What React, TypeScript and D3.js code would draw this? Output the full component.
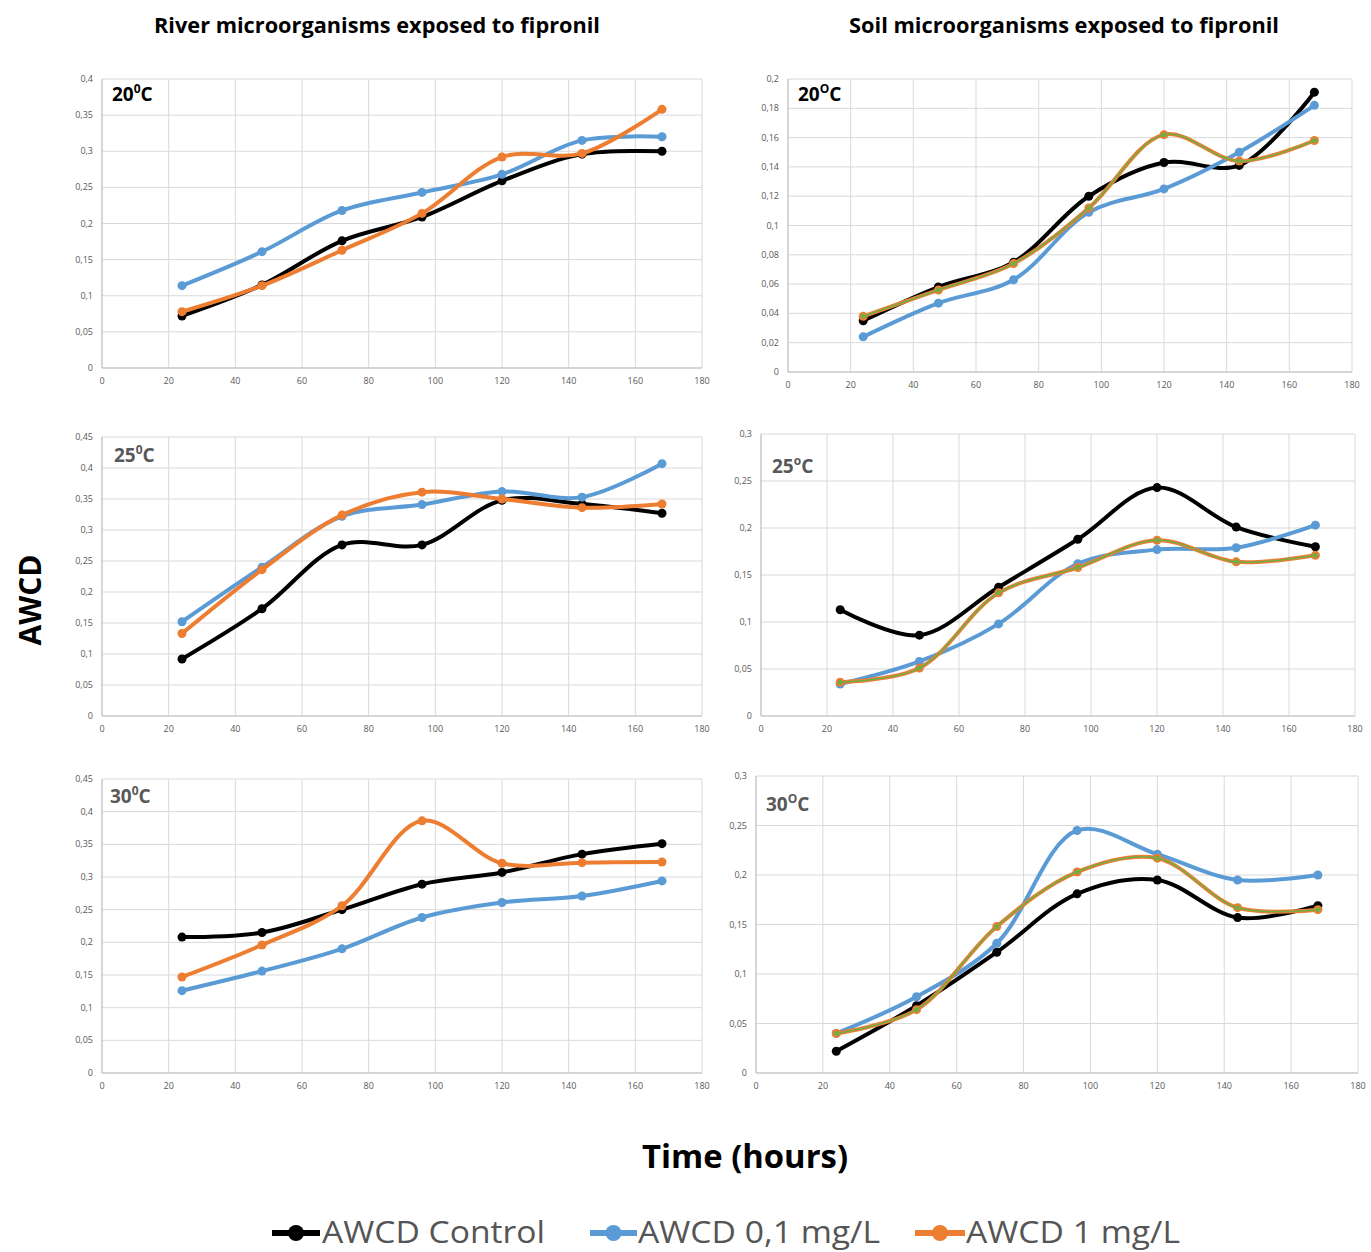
import React, { useEffect, useRef } from "react";
import * as d3 from "d3";

const hours = [24, 48, 72, 96, 120, 144, 168];
const xTicks = [0, 20, 40, 60, 80, 100, 120, 140, 160, 180];

// river
const river20Control = [0.072, 0.115, 0.176, 0.209, 0.259, 0.296, 0.3];
const river20Low = [0.114, 0.161, 0.218, 0.243, 0.268, 0.315, 0.32];
const river20High = [0.078, 0.114, 0.163, 0.214, 0.292, 0.297, 0.358];
const river25Control = [0.092, 0.173, 0.276, 0.276, 0.348, 0.342, 0.327];
const river25Low = [0.152, 0.24, 0.322, 0.341, 0.362, 0.353, 0.407];
const river25High = [0.133, 0.236, 0.324, 0.361, 0.35, 0.336, 0.342];
const river30Control = [0.208, 0.215, 0.25, 0.289, 0.307, 0.335, 0.351];
const river30Low = [0.126, 0.156, 0.19, 0.238, 0.261, 0.271, 0.294];
const river30High = [0.147, 0.196, 0.256, 0.386, 0.321, 0.322, 0.323];

// soil
const soil20Control = [0.035, 0.058, 0.075, 0.12, 0.143, 0.141, 0.191];
const soil20Low = [0.024, 0.047, 0.063, 0.109, 0.125, 0.15, 0.182];
const soil20High = [0.038, 0.056, 0.074, 0.112, 0.162, 0.144, 0.158];
const soil25Control = [0.113, 0.086, 0.137, 0.188, 0.243, 0.201, 0.18];
const soil25Low = [0.034, 0.058, 0.098, 0.162, 0.177, 0.179, 0.203];
const soil25High = [0.036, 0.051, 0.131, 0.158, 0.187, 0.164, 0.171];
const soil30Control = [0.022, 0.068, 0.122, 0.181, 0.195, 0.157, 0.169];
const soil30Low = [0.04, 0.077, 0.131, 0.245, 0.221, 0.195, 0.2];
const soil30High = [0.04, 0.064, 0.148, 0.203, 0.217, 0.167, 0.165];

const yTicks40 = [0, 0.05, 0.1, 0.15, 0.2, 0.25, 0.3, 0.35, 0.4];
const yTicks45 = [0, 0.05, 0.1, 0.15, 0.2, 0.25, 0.3, 0.35, 0.4, 0.45];
const yTicks20 = [0, 0.02, 0.04, 0.06, 0.08, 0.1, 0.12, 0.14, 0.16, 0.18, 0.2];
const yTicks30 = [0, 0.05, 0.1, 0.15, 0.2, 0.25, 0.3];

const legendLabels = ["AWCD Control", "AWCD 0,1 mg/L", "AWCD 1 mg/L"];
const colors = ["#000000", "#5b9bd5", "#ed7d31"];

const panels = [
  { box: [102, 702, 79, 368], ticks: yTicks40, label: ["20", "0"], lc: "#000", lpos: [112, 101], soil: false, s: [river20Control, river20Low, river20High] },
  { box: [788, 1352, 79, 372], ticks: yTicks20, label: ["20", "O"], lc: "#000", lpos: [798, 101], soil: true, s: [soil20Control, soil20Low, soil20High] },
  { box: [102, 702, 437, 716], ticks: yTicks45, label: ["25", "0"], lc: "#595959", lpos: [114, 462], soil: false, s: [river25Control, river25Low, river25High] },
  { box: [761, 1355, 434, 716], ticks: yTicks30, label: ["25", "o"], lc: "#595959", lpos: [772, 473], soil: true, s: [soil25Control, soil25Low, soil25High] },
  { box: [102, 702, 779, 1073], ticks: yTicks45, label: ["30", "0"], lc: "#595959", lpos: [110, 803], soil: false, s: [river30Control, river30Low, river30High] },
  { box: [756, 1358, 776, 1073], ticks: yTicks30, label: ["30", "O"], lc: "#595959", lpos: [766, 811], soil: true, s: [soil30Control, soil30Low, soil30High] },
];

const fmt = (v: number) => String(+v.toFixed(2)).replace(".", ",");

export default function App() {
  const ref = useRef<SVGSVGElement>(null);

  useEffect(() => {
    const svg = d3.select(ref.current);
    svg.selectAll("*").remove();
    const font = "'Open Sans', 'Liberation Sans', sans-serif";

    panels.forEach((p) => {
      const [x0, x1, y0, y1] = p.box;
      const x = d3.scaleLinear().domain([0, 180]).range([x0, x1]);
      const y = d3.scaleLinear().domain([0, p.ticks[p.ticks.length - 1]]).range([y1, y0]);
      const g = svg.append("g");

      // grid
      g.selectAll(".vg").data(xTicks).enter().append("line")
        .attr("x1", (d) => x(d)).attr("x2", (d) => x(d))
        .attr("y1", y0).attr("y2", y1)
        .attr("stroke", "#d9d9d9").attr("stroke-width", 1);
      g.selectAll(".hg").data(p.ticks).enter().append("line")
        .attr("x1", x0).attr("x2", x1)
        .attr("y1", (d) => y(d)).attr("y2", (d) => y(d))
        .attr("stroke", "#d9d9d9").attr("stroke-width", 1);
      g.append("line").attr("x1", x0).attr("x2", x1).attr("y1", y1).attr("y2", y1).attr("stroke", "#bfbfbf");
      g.append("line").attr("x1", x0).attr("x2", x0).attr("y1", y0).attr("y2", y1).attr("stroke", "#bfbfbf");

      // tick labels
      g.selectAll(".xt").data(xTicks).enter().append("text")
        .attr("x", (d) => x(d)).attr("y", y1 + 16)
        .attr("text-anchor", "middle").attr("font-size", 9).attr("font-family", font)
        .attr("fill", "#595959").text((d) => d);
      g.selectAll(".yt").data(p.ticks).enter().append("text")
        .attr("x", x0 - 9).attr("y", (d) => y(d) + 3)
        .attr("text-anchor", "end").attr("font-size", 9).attr("font-family", font)
        .attr("fill", "#595959").text((d) => fmt(d));

      // panel label
      const lt = g.append("text").attr("x", p.lpos[0]).attr("y", p.lpos[1])
        .attr("font-size", 19).attr("font-weight", "bold").attr("font-family", font)
        .attr("fill", p.lc);
      lt.append("tspan").text(p.label[0]);
      lt.append("tspan").attr("font-size", 12).attr("dy", -8).text(p.label[1]);
      lt.append("tspan").attr("dy", 8).text("C");

      const line = d3.line<number>()
        .x((d, i) => x(hours[i]))
        .y((d) => y(d))
        .curve(d3.curveCatmullRom.alpha(0.5));

      p.s.forEach((vals, si) => {
        g.append("path").datum(vals).attr("d", line)
          .attr("fill", "none").attr("stroke", colors[si]).attr("stroke-width", 4)
          .attr("stroke-linejoin", "round");
        g.selectAll(".m" + si).data(vals).enter().append("circle")
          .attr("cx", (d, i) => x(hours[i])).attr("cy", (d) => y(d))
          .attr("r", 4.5).attr("fill", colors[si]);
        if (p.soil && si === 2) {
          g.append("path").datum(vals).attr("d", line)
            .attr("fill", "none").attr("stroke", "#70ad47").attr("stroke-width", 1.5);
          g.selectAll(".mg").data(vals).enter().append("circle")
            .attr("cx", (d, i) => x(hours[i])).attr("cy", (d) => y(d))
            .attr("r", 2.5).attr("fill", "#70ad47");
        }
      });
    });

    // titles
    svg.append("text").attr("x", 377).attr("y", 33).attr("text-anchor", "middle")
      .attr("font-size", 21).attr("font-weight", "bold").attr("font-family", font)
      .attr("textLength", 446).attr("lengthAdjust", "spacingAndGlyphs")
      .text("River microorganisms exposed to fipronil");
    svg.append("text").attr("x", 1064).attr("y", 33).attr("text-anchor", "middle")
      .attr("font-size", 21).attr("font-weight", "bold").attr("font-family", font)
      .attr("textLength", 430).attr("lengthAdjust", "spacingAndGlyphs")
      .text("Soil microorganisms exposed to fipronil");

    svg.append("text").attr("transform", "translate(41,600) rotate(-90)")
      .attr("text-anchor", "middle").attr("font-size", 30).attr("font-weight", "bold")
      .attr("font-family", font).text("AWCD");
    svg.append("text").attr("x", 745).attr("y", 1168).attr("text-anchor", "middle")
      .attr("font-size", 33).attr("font-weight", "bold").attr("font-family", font)
      .attr("textLength", 206).attr("lengthAdjust", "spacingAndGlyphs")
      .text("Time (hours)");

    // legend
    const legX = [[272, 320, 322, 223], [590, 637, 638, 242], [915, 965, 966, 214]];
    legendLabels.forEach((lab, i) => {
      const [a, b, t, w] = legX[i];
      svg.append("line").attr("x1", a).attr("x2", b).attr("y1", 1233).attr("y2", 1233)
        .attr("stroke", colors[i]).attr("stroke-width", 6);
      svg.append("circle").attr("cx", (a + b) / 2).attr("cy", 1233).attr("r", 8).attr("fill", colors[i]);
      svg.append("text").attr("x", t).attr("y", 1243).attr("font-size", 31)
        .attr("font-family", font).attr("fill", "#555")
        .attr("textLength", w).attr("lengthAdjust", "spacingAndGlyphs").text(lab);
    });
  }, []);

  return (
    <svg ref={ref} width={1371} height={1252}
      style={{ position: "absolute", left: 0, top: 0, background: "#fff" }} />
  );
}
